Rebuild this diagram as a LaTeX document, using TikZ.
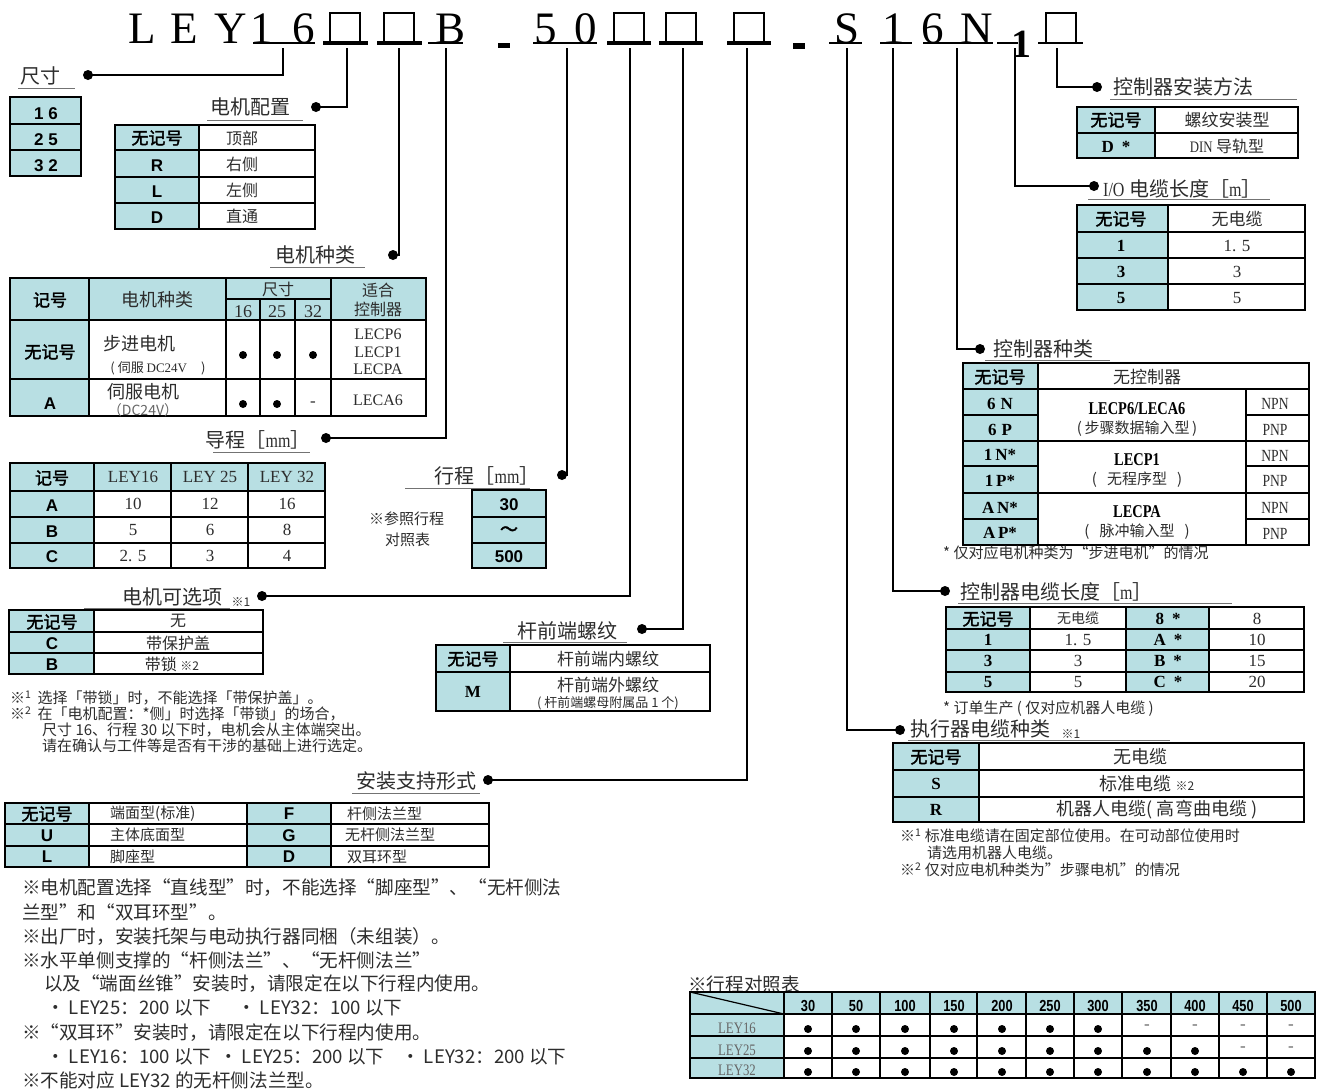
\documentclass[tikz,border=0pt]{standalone}
\usepackage{fontspec}
\setmainfont{Noto Sans CJK SC}
\newfontfamily\cjkb[FakeBold=2]{Noto Sans CJK SC}
\newfontfamily\serf{Liberation Serif}
\newfontfamily\serc[FakeStretch=0.8]{Liberation Serif}
\newfontfamily\sanf{Liberation Sans}
\newfontfamily\sanc[FakeStretch=0.8]{Liberation Sans}
\definecolor{teal0}{RGB}{184,223,227}
\definecolor{txt}{RGB}{45,45,45}
\newcommand\fs[1]{\fontsize{#1}{#1}\selectfont}
\tikzset{
  hd/.style={inner sep=0, anchor=base, font=\serf\fs{45}},
  lbl/.style={inner sep=0, font=\fs{20}, text=txt},
  cj/.style={inner sep=0, font=\fs{16}, text=txt},
  cb/.style={inner sep=0, font=\cjkb\fs{17}},
  cs/.style={inner sep=0, font=\sanf\bfseries\fs{17}},
  cr/.style={inner sep=0, font=\serf\bfseries\fs{17}},
  num/.style={inner sep=0, font=\serf\fs{17}, text=txt},
  hn/.style={inner sep=0, font=\sanc\bfseries\fs{16}},
  ul/.style={draw=black!55, line width=1pt},
  tab/.style={line width=1.8pt},
  conn/.style={line width=1.8pt},
  dotn/.style={circle, fill=black, inner sep=0, minimum size=10pt},
  bul/.style={circle, fill=black, inner sep=0, minimum size=8pt},
  note/.style={inner sep=0, anchor=west, font=\fs{15}, text=txt},
  bnote/.style={inner sep=0, anchor=west, font=\fs{18.6}, text=txt},
}
\begin{document}
\begin{tikzpicture}[x=1pt,y=-1pt]
\useasboundingbox (0,0) rectangle (1320,1088);
\fill[white] (0,0) rectangle (1320,1088);

% ---------------- header ----------------
\node[hd] (hL) at (142,43) {L};
\node[hd] (hE) at (184,43) {E};
\node[hd] (hY) at (231,43) {Y};
\node[hd] (h1) at (262,43) {1};
\node[hd] (h6) at (304,43) {6};
\node[hd] (hB) at (451,43) {B};
\node[hd] (h5) at (546,43) {5};
\node[hd] (h0) at (586,43) {0};
\node[hd] (hS) at (847,43) {S};
\node[hd] (h1b) at (894,43) {1};
\node[hd] (h6b) at (933,43) {6};
\node[hd] (hN) at (977,43) {N};
\node[inner sep=0, anchor=base, font=\serf\bfseries\fs{40}] (h1c) at (1021,57) {1};
\foreach \x in {345,399,629,681,749,1061} {
  \draw[line width=1.3pt] ({\x-15},13) rectangle ({\x+15},43);
}
\draw[line width=3.5pt] (323,43) -- (368,43) (377,43) -- (422,43) (607,43) -- (651,43) (659,43) -- (703,43) (727,43) -- (771,43);
\draw[line width=1.6pt] (253,43) -- (315,43) (428,43) -- (463,43) (533,43) -- (597,43) (829,43) -- (862,43) (880,43) -- (912,43)
  (923,43) -- (993,43) (997,43) -- (1018,43) (1038,43) -- (1083,43);
\fill (498,43) rectangle (510,48);
\fill (793,43) rectangle (805,49);

\coordinate (csize) at (283,48);
\coordinate (cconf) at (347,48);
\coordinate (ctype) at (399,48);
\coordinate (clead) at (446,48);
\coordinate (cstroke) at (567,48);
\coordinate (copt) at (630,48);
\coordinate (crod) at (683,48);
\coordinate (cmount) at (747,48);
\coordinate (cacab) at (847,48);
\coordinate (cccab) at (893,48);
\coordinate (cctype) at (957,48);
\coordinate (cio) at (1015,48);
\coordinate (ccmount) at (1057,48);

% ---------------- 尺寸 ----------------
\node[lbl] (lsize) at (40,76) {尺寸};
\draw[ul] (18,88) -- (75,88);
\node[dotn] (dsize) at (88,75) {};
\draw[conn] (dsize.center) -| (csize);
\fill[teal0] (10,97) rectangle (81,176);
\draw[tab] (10,97) rectangle (81,176) (10,124) -- (81,124) (10,150) -- (81,150);
\node[cs] (s16) at (46,114) {1\hspace{5pt}6};
\node[cs] (s25) at (46,140) {2\hspace{5pt}5};
\node[cs] (s32) at (46,166) {3\hspace{5pt}2};

% ---------------- 电机配置 ----------------
\node[lbl] (lconf) at (250,107) {电机配置};
\draw[ul] (207,120) -- (303,120);
\node[dotn] (dconf) at (316,107) {};
\draw[conn] (dconf.center) -| (cconf);
\fill[teal0] (115,125) rectangle (199,229);
\draw[tab] (115,125) rectangle (315,229);
\draw[tab] (199,125) -- (199,229) (115,150) -- (315,150) (115,177) -- (315,177) (115,203) -- (315,203);
\node[cb] (f0) at (157,138) {无记号};
\node[cs] (fR) at (157,166) {R};
\node[cs] (fL) at (157,192) {L};
\node[cs] (fD) at (157,218) {D};
\node[cj] (g0) at (242,138) {顶部};
\node[cj] (gR) at (242,164) {右侧};
\node[cj] (gL) at (242,190) {左侧};
\node[cj] (gD) at (242,216) {直通};

% ---------------- 电机种类 ----------------
\node[lbl] (ltype) at (315,255) {电机种类};
\draw[ul] (270,267) -- (365,267);
\node[dotn] (dtype) at (393,255) {};
\draw[conn] (dtype.center) -| (ctype);
\fill[teal0] (10,278) rectangle (426,320);
\fill[teal0] (10,320) rectangle (89,416);
\draw[tab] (10,278) rectangle (426,416);
\draw[tab] (10,320) -- (426,320) (10,379) -- (426,379) (89,278) -- (89,416) (226,278) -- (226,416) (331,278) -- (331,416)
  (226,299) -- (331,299) (260,299) -- (260,416) (295,299) -- (295,416);
\node[cb] (t0) at (50,300) {记号};
\node[cj, font=\fs{18}] (t1) at (157,300) {电机种类};
\node[cj] (t2) at (278,289) {尺寸};
\node[num, font=\serf\fs{18}] (t3) at (243,312) {16};
\node[num, font=\serf\fs{18}] (t4) at (277,312) {25};
\node[num, font=\serf\fs{18}] (t5) at (313,312) {32};
\node[cj] (t6) at (378,290) {适合};
\node[cj] (t7) at (378,309) {控制器};
\node[cb] (t8) at (50,352) {无记号};
\node[cj, font=\fs{18}] (t9) at (139,344) {步进电机};
\node[cj, font=\fs{13}] (t10) at (158,368) {( 伺服 {\serf DC24V}\hspace{14pt})};
\node[bul] (t11) at (243,355) {};
\node[bul] (t12) at (277,355) {};
\node[bul] (t13) at (313,355) {};
\node[num, font=\serf\fs{16}] (t14) at (378,334) {LECP6};
\node[num, font=\serf\fs{16}] (t15) at (378,352) {LECP1};
\node[num, font=\serf\fs{16}] (t16) at (378,369) {LECPA};
\node[cs] (t17) at (50,404) {A};
\node[cj, font=\fs{18}] (t18) at (143,392) {伺服电机};
\node[cj, font=\fs{14}, text=black!60] (t19) at (143,410) {（DC24V）};
\node[bul] (t20) at (243,404) {};
\node[bul] (t21) at (277,404) {};
\node[num] (t22) at (313,404) {-};
\node[num, font=\serf\fs{16}] (t23) at (378,400) {LECA6};

% ---------------- 导程 ----------------
\node[lbl] (llead) at (258,440) {导程［{\serc mm}］};
\draw[ul] (213,452) -- (310,452);
\node[dotn] (dlead) at (326,438) {};
\draw[conn] (dlead.center) -| (clead);
\fill[teal0] (10,463) rectangle (325,491);
\fill[teal0] (10,491) rectangle (94,568);
\draw[tab] (10,463) rectangle (325,568);
\draw[tab] (10,491) -- (325,491) (10,517) -- (325,517) (10,543) -- (325,543) (94,463) -- (94,568) (171,463) -- (171,568) (248,463) -- (248,568);
\node[cb] (p0) at (52,478) {记号};
\node[num] (p1) at (133,477) {LEY16};
\node[num] (p2) at (210,477) {LEY 25};
\node[num] (p3) at (287,477) {LEY 32};
\node[cs] (pA) at (52,506) {A};
\node[cs] (pB) at (52,532) {B};
\node[cs] (pC) at (52,557) {C};
\node[num] (p4) at (133,504) {10};
\node[num] (p5) at (210,504) {12};
\node[num] (p6) at (287,504) {16};
\node[num] (p7) at (133,530) {5};
\node[num] (p8) at (210,530) {6};
\node[num] (p9) at (287,530) {8};
\node[num] (p10) at (133,556) {2. 5};
\node[num] (p11) at (210,556) {3};
\node[num] (p12) at (287,556) {4};

% ---------------- 行程 ----------------
\node[lbl] (lstroke) at (487,476) {行程［{\serc mm}］};
\draw[ul] (405,488) -- (530,488);
\node[dotn] (dstroke) at (562,475) {};
\draw[conn] (dstroke.center) -| (cstroke);
\fill[teal0] (472,490) rectangle (546,568);
\draw[tab] (472,490) rectangle (546,568) (472,517) -- (546,517) (472,543) -- (546,543);
\node[cs] (r1) at (509,505) {30};
\node[cb, font=\cjkb\fs{18}] (r2) at (509,531) {～};
\node[cs] (r3) at (509,557) {500};
\node[note] (r4) at (369,519) {※参照行程};
\node[note] (r5) at (385,540) {对照表};

% ---------------- 电机可选项 ----------------
\node[lbl] (lopt) at (172,597) {电机可选项};
\node[cj, font=\fs{12}] (lopt2) at (241,602) {※1};
\draw[ul] (84,608) -- (230,608);
\node[dotn] (dopt) at (262,596) {};
\draw[conn] (dopt.center) -| (copt);
\fill[teal0] (9,610) rectangle (94,674);
\draw[tab] (9,610) rectangle (263,674) (94,610) -- (94,674) (9,632) -- (263,632) (9,653) -- (263,653);
\node[cb] (o0) at (52,622) {无记号};
\node[cs] (oC) at (52,644) {C};
\node[cs] (oB) at (52,665) {B};
\node[cj] (o1) at (178,621) {无};
\node[cj] (o2) at (178,643) {带保护盖};
\node[cj] (o3) at (172,664) {带锁 {\fs{12}※2}};
\node[note] (o4) at (10,698) {※\textsuperscript{1}\hspace{6pt}选择「带锁」时，不能选择「带保护盖」。};
\node[note] (o5) at (10,714) {※\textsuperscript{2}\hspace{6pt}在「电机配置：*侧」时选择「带锁」的场合，};
\node[note] (o6) at (42,730) {尺寸 16、行程 30 以下时，电机会从主体端突出。};
\node[note] (o7) at (42,746) {请在确认与工件等是否有干涉的基础上进行选定。};

% ---------------- 杆前端螺纹 ----------------
\node[lbl] (lrod) at (567,631) {杆前端螺纹};
\draw[ul] (503,642) -- (627,642);
\node[dotn] (drod) at (642,629) {};
\draw[conn] (drod.center) -| (crod);
\fill[teal0] (436,645) rectangle (510,711);
\draw[tab] (436,645) rectangle (710,711) (510,645) -- (510,711) (436,672) -- (710,672);
\node[cb] (q0) at (473,659) {无记号};
\node[cr] (qM) at (473,692) {M};
\node[cj, font=\fs{17}] (q1) at (608,659) {杆前端内螺纹};
\node[cj, font=\fs{17}] (q2) at (608,685) {杆前端外螺纹};
\node[cj, font=\fs{13}] (q3) at (608,703) {( 杆前端螺母附属品 1 个)};

% ---------------- 安装支持形式 ----------------
\node[lbl] (lmount) at (416,781) {安装支持形式};
\draw[ul] (352,793) -- (480,793);
\node[dotn] (dmount) at (488,780) {};
\draw[conn] (dmount.center) -| (cmount);
\fill[teal0] (5,803) rectangle (89,867);
\fill[teal0] (247,803) rectangle (331,867);
\draw[tab] (5,803) rectangle (489,867) (89,803) -- (89,867) (247,803) -- (247,867) (331,803) -- (331,867)
  (5,824) -- (489,824) (5,846) -- (489,846);
\node[cb] (m0) at (47,814) {无记号};
\node[cs] (mU) at (47,836) {U};
\node[cs] (mL) at (47,857) {L};
\node[cs] (mF) at (289,814) {F};
\node[cs] (mG) at (289,836) {G};
\node[cs] (mD) at (289,857) {D};
\node[note] (m1) at (110,814) {端面型(标准)};
\node[note] (m2) at (110,835) {主体底面型};
\node[note] (m3) at (110,857) {脚座型};
\node[note] (m4) at (347,814) {杆侧法兰型};
\node[note] (m5) at (345,835) {无杆侧法兰型};
\node[note] (m6) at (347,857) {双耳环型};

\node[bnote] (b1) at (22,888) {※电机配置选择“直线型”时，不能选择“脚座型”、“无杆侧法};
\node[bnote] (b2) at (22,912) {兰型”和“双耳环型”。};
\node[bnote] (b3) at (22,937) {※出厂时，安装托架与电动执行器同梱（未组装）。};
\node[bnote] (b4) at (22,960) {※水平单侧支撑的“杆侧法兰”、“无杆侧法兰”};
\node[bnote] (b5) at (44,984) {以及“端面丝锥”安装时，请限定在以下行程内使用。};
\node[bnote] (b6) at (46,1008) {• LEY25：200 以下};
\node[bnote] (b7) at (237,1008) {• LEY32：100 以下};
\node[bnote] (b8) at (22,1033) {※“双耳环”安装时，请限定在以下行程内使用。};
\node[bnote] (b9) at (46,1057) {• LEY16：100 以下};
\node[bnote] (b10) at (219,1057) {• LEY25：200 以下};
\node[bnote] (b11) at (401,1057) {• LEY32：200 以下};
\node[bnote] (b12) at (22,1080) {※不能对应 LEY32 的无杆侧法兰型。};

% ---------------- 控制器安装方法 ----------------
\node[dotn] (dcm) at (1097,87) {};
\draw[conn] (ccmount) |- (dcm.center);
\node[lbl, anchor=west] (lcm) at (1113,87) {控制器安装方法};
\draw[ul] (1110,99) -- (1297,99);
\fill[teal0] (1077,107) rectangle (1155,158);
\draw[tab] (1077,107) rectangle (1298,158) (1155,107) -- (1155,158) (1077,133) -- (1298,133);
\node[cb] (k0) at (1116,120) {无记号};
\node[cr] (kD) at (1116,147) {D\hspace{8pt}*};
\node[cj, font=\fs{17}] (k1) at (1227,120) {螺纹安装型};
\node[cj] (k2) at (1227,146) {{\serc DIN} 导轨型};

% ---------------- I/O 电缆长度 ----------------
\node[dotn] (dio) at (1094,186) {};
\draw[conn] (cio) |- (dio.center);
\node[lbl, anchor=west] (lio) at (1103,189) {{\serc I/O} 电缆长度［{\serc m}］};
\draw[ul] (1088,199) -- (1270,199);
\fill[teal0] (1077,205) rectangle (1168,310);
\draw[tab] (1077,205) rectangle (1305,310) (1168,205) -- (1168,310) (1077,232) -- (1305,232) (1077,258) -- (1305,258) (1077,284) -- (1305,284);
\node[cb] (i0) at (1121,219) {无记号};
\node[cr] (i1) at (1121,246) {1};
\node[cr] (i2) at (1121,272) {3};
\node[cr] (i3) at (1121,298) {5};
\node[cj, font=\fs{17}] (i4) at (1237,219) {无电缆};
\node[num] (i5) at (1237,246) {1. 5};
\node[num] (i6) at (1237,272) {3};
\node[num] (i7) at (1237,298) {5};

% ---------------- 控制器种类 ----------------
\node[dotn] (dct) at (980,349) {};
\draw[conn] (cctype) |- (dct.center);
\node[lbl, anchor=west] (lct) at (993,349) {控制器种类};
\draw[ul] (985,360) -- (1110,360);
\fill[teal0] (963,363) rectangle (1038,545);
\draw[tab] (963,363) rectangle (1309,545);
\draw[tab] (963,389) -- (1309,389) (963,441) -- (1309,441) (963,493) -- (1309,493) (1038,363) -- (1038,545) (1246,389) -- (1246,545)
  (963,415) -- (1038,415) (1246,415) -- (1309,415) (963,466) -- (1038,466) (1246,466) -- (1309,466) (963,519) -- (1038,519) (1246,519) -- (1309,519);
\node[cb] (c0) at (1000,377) {无记号};
\node[cj, font=\fs{17}] (c1) at (1147,377) {无控制器};
\node[cr] (c2) at (1000,404) {6\hspace{5pt}N};
\node[cr] (c3) at (1000,430) {6\hspace{5pt}P};
\node[cr] (c4) at (1000,455) {1\,N*};
\node[cr] (c5) at (1000,481) {1\,P*};
\node[cr] (c6) at (1000,508) {A\,N*};
\node[cr] (c7) at (1000,533) {A\,P*};
\node[cr, font=\serc\bfseries\fs{18}] (c8) at (1137,409) {LECP6/LECA6};
\node[cj, font=\fs{15}] (c9) at (1137,429) {(\,步骤数据输入型\,)};
\node[cr, font=\serc\bfseries\fs{18}] (c10) at (1137,460) {LECP1};
\node[cj, font=\fs{15}] (c11) at (1137,480) {(\hspace{10pt}无程序型\hspace{10pt})};
\node[cr, font=\serc\bfseries\fs{18}] (c12) at (1137,512) {LECPA};
\node[cj, font=\fs{15}] (c13) at (1137,532) {(\hspace{10pt}脉冲输入型\hspace{10pt})};
\node[num, font=\serc\fs{17}] (c14) at (1275,404) {NPN};
\node[num, font=\serc\fs{17}] (c15) at (1275,430) {PNP};
\node[num, font=\serc\fs{17}] (c16) at (1275,456) {NPN};
\node[num, font=\serc\fs{17}] (c17) at (1275,481) {PNP};
\node[num, font=\serc\fs{17}] (c18) at (1275,508) {NPN};
\node[num, font=\serc\fs{17}] (c19) at (1275,534) {PNP};
\node[note] (c20) at (943,553) {* 仅对应电机种类为“步进电机”的情况};

% ---------------- 控制器电缆长度 ----------------
\node[dotn] (dcc) at (945,591) {};
\draw[conn] (cccab) |- (dcc.center);
\node[lbl, anchor=west] (lcc) at (960,592) {控制器电缆长度［{\serc m}］};
\draw[ul] (958,603) -- (1232,603);
\fill[teal0] (946,607) rectangle (1030,692);
\fill[teal0] (1126,607) rectangle (1209,692);
\draw[tab] (946,607) rectangle (1304,692) (1030,607) -- (1030,692) (1126,607) -- (1126,692) (1209,607) -- (1209,692)
  (946,629) -- (1304,629) (946,650) -- (1304,650) (946,672) -- (1304,672);
\node[cb] (e0) at (988,619) {无记号};
\node[cr] (e1) at (988,640) {1};
\node[cr] (e2) at (988,661) {3};
\node[cr] (e3) at (988,682) {5};
\node[cj, font=\fs{14}] (e4) at (1078,618) {无电缆};
\node[num] (e5) at (1078,640) {1. 5};
\node[num] (e6) at (1078,661) {3};
\node[num] (e7) at (1078,682) {5};
\node[cr] (e8) at (1168,619) {8\hspace{8pt}*};
\node[cr] (e9) at (1168,640) {A\hspace{8pt}*};
\node[cr] (e10) at (1168,661) {B\hspace{8pt}*};
\node[cr] (e11) at (1168,682) {C\hspace{8pt}*};
\node[num] (e12) at (1257,619) {8};
\node[num] (e13) at (1257,640) {10};
\node[num] (e14) at (1257,661) {15};
\node[num] (e15) at (1257,682) {20};
\node[note] (e16) at (943,709) {* 订单生产 ( 仅对应机器人电缆 )};

% ---------------- 执行器电缆种类 ----------------
\node[dotn] (dac) at (900,730) {};
\draw[conn] (cacab) |- (dac.center);
\node[lbl, anchor=west] (lac) at (910,729) {执行器电缆种类};
\node[cj, font=\fs{12}] (lac2) at (1071,734) {※1};
\draw[ul] (908,740) -- (1170,740);
\fill[teal0] (893,743) rectangle (979,822);
\draw[tab] (893,743) rectangle (1304,822) (979,743) -- (979,822) (893,770) -- (1304,770) (893,797) -- (1304,797);
\node[cb] (a0) at (936,757) {无记号};
\node[cr] (aS) at (936,784) {S};
\node[cr] (aR) at (936,810) {R};
\node[cj, font=\fs{18}] (a1) at (1140,757) {无电缆};
\node[cj, font=\fs{18}] (a2) at (1147,784) {标准电缆 {\fs{12}※2}};
\node[cj, font=\fs{18}] (a3) at (1157,810) {机器人电缆( 高弯曲电缆 )};
\node[note] (a4) at (900,836) {※\textsuperscript{1} 标准电缆请在固定部位使用。在可动部位使用时};
\node[note] (a5) at (927,853) {请选用机器人电缆。};
\node[note] (a6) at (900,870) {※\textsuperscript{2} 仅对应电机种类为”步骤电机”的情况};

% ---------------- 行程对照表 ----------------
\node[bnote] (stl) at (688,984) {※行程对照表};
\fill[teal0] (690,992) rectangle (1315,1014);
\fill[teal0] (690,1014) rectangle (784,1078);
\draw[tab] (690,992) rectangle (1315,1078) (690,1014) -- (1315,1014) (690,1036) -- (1315,1036) (690,1058) -- (1315,1058);
\foreach \x in {784,832,880,930,977,1026,1074,1122,1171,1219,1267} { \draw[tab] (\x,992) -- (\x,1078); }
\draw[line width=1.2pt] (690,992) -- (784,1014);
\foreach \xc/\lab [count=\i] in {808/30,856/50,905/100,954/150,1002/200,1050/250,1098/300,1147/350,1195/400,1243/450,1291/500} {
  \node[hn] (sh\i) at (\xc,1006) {\lab};
  \ifnum\i<8 \node[bul] (sa\i) at (\xc,1029) {}; \else \node[num, text=black!60] (sa\i) at (\xc,1027) {-}; \fi
  \ifnum\i<10 \node[bul] (sb\i) at (\xc,1051) {}; \else \node[num, text=black!60] (sb\i) at (\xc,1049) {-}; \fi
  \node[bul] (sc\i) at (\xc,1072) {};
}
\node[num, text=black!60, font=\serc\fs{16}] (sl1) at (737,1028) {LEY16};
\node[num, text=black!60, font=\serc\fs{16}] (sl2) at (737,1050) {LEY25};
\node[num, text=black!60, font=\serc\fs{16}] (sl3) at (737,1070) {LEY32};
\end{tikzpicture}
\end{document}
